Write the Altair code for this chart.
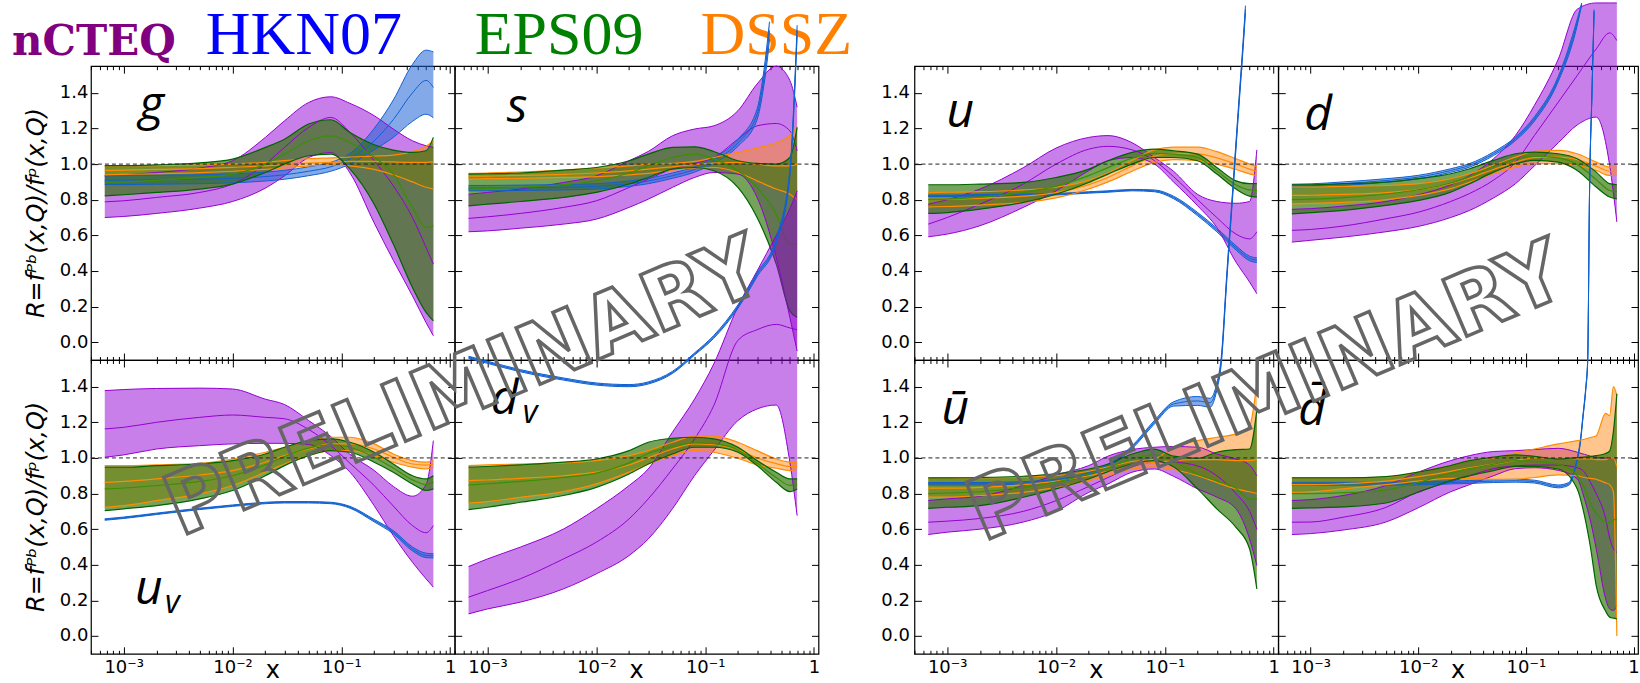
import altair as alt
import pandas as pd

W, H, W_R, GAP = 364, 294, 360, 96
XDOM = [5e-4, 1.1]
YDOM = [-0.1, 1.55]
YT = [0.0, 0.2, 0.4, 0.6, 0.8, 1.0, 1.2, 1.4]
XLAB = [0.001, 0.01, 0.1, 1.0]
MINOR = [round(m * 10.0 ** e, 6) for e in range(-4, 1) for m in range(1, 10) if 5e-4 <= m * 10.0 ** e <= 1.1]

X15 = [0.00067, 0.001, 0.002, 0.005, 0.01, 0.02, 0.03, 0.05, 0.08, 0.12, 0.2, 0.3, 0.45, 0.6, 0.7]
X19 = [0.00067, 0.001, 0.002, 0.005, 0.01, 0.02, 0.03, 0.05, 0.08, 0.12, 0.2, 0.3, 0.35, 0.4, 0.45, 0.55, 0.6, 0.65, 0.7]
X_S_HKN = [0.00067, 0.001, 0.002, 0.005, 0.01, 0.02, 0.03, 0.05, 0.08, 0.12, 0.2, 0.3, 0.34, 0.37, 0.39]
X_D_HKN = [0.00067, 0.001, 0.002, 0.005, 0.01, 0.02, 0.03, 0.05, 0.08, 0.12, 0.2, 0.3, 0.33]
X_UB_HKN = [0.00067, 0.001, 0.002, 0.005, 0.01, 0.02, 0.03, 0.05, 0.08, 0.12, 0.2, 0.26, 0.3, 0.33, 0.37, 0.42, 0.47, 0.53, 0.55]
X_DB_HKN = [0.00067, 0.001, 0.002, 0.005, 0.01, 0.02, 0.03, 0.05, 0.08, 0.12, 0.2, 0.25, 0.28, 0.3, 0.32, 0.34, 0.36, 0.375, 0.39, 0.41, 0.43]

# ---- g ----
G_NCTEQ_LO = [0.700, 0.706, 0.723, 0.753, 0.790, 0.865, 0.934, 1.037, 1.065, 0.950, 0.670, 0.460, 0.260, 0.110, 0.036]
G_NCTEQ_MID = [0.788, 0.794, 0.813, 0.841, 0.888, 1.000, 1.094, 1.206, 1.262, 1.178, 1.019, 0.878, 0.700, 0.532, 0.438]
G_NCTEQ_HI = [0.934, 0.940, 0.953, 0.978, 1.019, 1.150, 1.243, 1.346, 1.378, 1.341, 1.272, 1.197, 1.131, 1.103, 1.094]
G_EPS_LO = [0.822, 0.828, 0.841, 0.860, 0.888, 0.953, 1.000, 1.047, 1.056, 0.972, 0.775, 0.551, 0.307, 0.167, 0.120]
G_EPS_MID = [0.897, 0.900, 0.909, 0.925, 0.944, 1.000, 1.056, 1.131, 1.159, 1.120, 1.040, 0.944, 0.757, 0.644, 0.654]
G_EPS_HI = [0.991, 0.991, 0.996, 1.007, 1.028, 1.094, 1.140, 1.225, 1.249, 1.178, 1.109, 1.079, 1.066, 1.075, 1.150]
G_DSSZ_LO = [0.940, 0.942, 0.946, 0.952, 0.960, 0.970, 0.978, 0.990, 0.995, 0.990, 0.970, 0.940, 0.900, 0.870, 0.860]
G_DSSZ_MID = [0.965, 0.966, 0.970, 0.975, 0.982, 0.990, 0.997, 1.005, 1.010, 1.015, 1.015, 1.012, 1.010, 1.010, 1.012]
G_DSSZ_HI = [0.990, 0.990, 0.992, 0.995, 1.000, 1.010, 1.020, 1.030, 1.035, 1.040, 1.045, 1.050, 1.070, 1.100, 1.130]
G_HKN_LO = [0.885, 0.885, 0.887, 0.890, 0.895, 0.905, 0.915, 0.935, 0.960, 1.000, 1.080, 1.150, 1.240, 1.280, 1.260]
G_HKN_MID = [0.910, 0.910, 0.912, 0.915, 0.920, 0.930, 0.940, 0.960, 0.985, 1.030, 1.130, 1.250, 1.400, 1.470, 1.430]
G_HKN_HI = [0.935, 0.935, 0.937, 0.940, 0.945, 0.955, 0.965, 0.985, 1.010, 1.060, 1.200, 1.360, 1.560, 1.640, 1.630]

# ---- s ----
S_NCTEQ_LO = [0.620, 0.625, 0.640, 0.663, 0.691, 0.757, 0.803, 0.869, 0.925, 0.953, 0.944, 0.813, 0.476, 0.139, -0.050]
S_NCTEQ_MID = [0.695, 0.704, 0.723, 0.757, 0.794, 0.869, 0.916, 0.972, 1.004, 1.037, 1.140, 1.215, 1.228, 1.187, 1.075]
S_NCTEQ_HI = [0.831, 0.841, 0.860, 0.897, 0.934, 1.019, 1.071, 1.159, 1.197, 1.215, 1.300, 1.450, 1.550, 1.470, 1.320]
S_EPS_LO = [0.766, 0.775, 0.790, 0.813, 0.841, 0.888, 0.925, 0.972, 0.981, 0.963, 0.869, 0.700, 0.438, 0.176, 0.139]
S_EPS_MID = [0.860, 0.863, 0.870, 0.885, 0.905, 0.950, 0.990, 1.037, 1.056, 1.028, 0.963, 0.869, 0.719, 0.550, 0.550]
S_EPS_HI = [0.944, 0.946, 0.950, 0.966, 0.981, 1.019, 1.056, 1.094, 1.097, 1.071, 1.019, 1.004, 1.000, 1.037, 1.206]
S_DSSZ_LO = [0.916, 0.918, 0.920, 0.925, 0.930, 0.940, 0.948, 0.966, 0.978, 0.981, 0.953, 0.906, 0.860, 0.831, 0.800]
S_DSSZ_MID = [0.932, 0.933, 0.936, 0.942, 0.950, 0.962, 0.972, 0.985, 0.997, 1.005, 1.010, 1.000, 0.990, 0.990, 1.000]
S_DSSZ_HI = [0.948, 0.950, 0.955, 0.966, 0.978, 0.990, 1.000, 1.004, 1.015, 1.037, 1.066, 1.090, 1.120, 1.160, 1.210]
S_HKN_LO = [0.850, 0.850, 0.852, 0.855, 0.860, 0.875, 0.890, 0.920, 0.955, 1.005, 1.100, 1.250, 1.410, 1.570, 1.700]
S_HKN_MID = [0.865, 0.865, 0.867, 0.870, 0.875, 0.890, 0.905, 0.935, 0.970, 1.020, 1.120, 1.280, 1.450, 1.620, 1.750]
S_HKN_HI = [0.880, 0.880, 0.882, 0.885, 0.890, 0.905, 0.920, 0.950, 0.985, 1.035, 1.140, 1.310, 1.490, 1.670, 1.800]

# ---- u_v ----
UV_NCTEQ_LO = [1.004, 1.017, 1.050, 1.069, 1.079, 1.082, 1.082, 1.075, 1.013, 0.920, 0.732, 0.564, 0.414, 0.321, 0.274]
UV_NCTEQ_MID = [1.163, 1.172, 1.200, 1.228, 1.241, 1.228, 1.220, 1.160, 1.070, 0.970, 0.845, 0.730, 0.620, 0.580, 0.620]
UV_NCTEQ_HI = [1.378, 1.384, 1.390, 1.392, 1.387, 1.330, 1.300, 1.210, 1.120, 1.020, 0.930, 0.840, 0.785, 0.850, 1.097]
UV_EPS_LO = [0.704, 0.714, 0.732, 0.770, 0.817, 0.900, 0.957, 1.013, 1.041, 1.032, 0.976, 0.920, 0.854, 0.817, 0.826]
UV_EPS_MID = [0.826, 0.831, 0.845, 0.868, 0.900, 0.961, 1.008, 1.055, 1.074, 1.060, 1.004, 0.943, 0.877, 0.850, 0.863]
UV_EPS_HI = [0.948, 0.948, 0.957, 0.966, 0.985, 1.022, 1.060, 1.097, 1.107, 1.088, 1.032, 0.966, 0.900, 0.882, 0.900]
UV_DSSZ_LO = [0.723, 0.732, 0.760, 0.798, 0.845, 0.920, 0.966, 1.013, 1.041, 1.041, 1.013, 0.976, 0.948, 0.938, 0.948]
UV_DSSZ_MID = [0.863, 0.868, 0.882, 0.904, 0.929, 0.976, 1.013, 1.050, 1.079, 1.079, 1.050, 1.004, 0.966, 0.960, 0.966]
UV_DSSZ_HI = [0.957, 0.957, 0.961, 0.970, 0.994, 1.032, 1.060, 1.097, 1.116, 1.116, 1.079, 1.022, 0.985, 0.976, 0.985]
UV_HKN_LO = [0.650, 0.660, 0.682, 0.710, 0.728, 0.743, 0.747, 0.747, 0.743, 0.718, 0.641, 0.574, 0.478, 0.440, 0.438]
UV_HKN_MID = [0.654, 0.664, 0.686, 0.714, 0.732, 0.747, 0.751, 0.751, 0.747, 0.723, 0.648, 0.583, 0.489, 0.452, 0.450]
UV_HKN_HI = [0.658, 0.668, 0.690, 0.718, 0.736, 0.751, 0.755, 0.755, 0.751, 0.728, 0.655, 0.592, 0.500, 0.465, 0.462]

# ---- d_v ----
DV_NCTEQ_LO = [0.124, 0.152, 0.190, 0.265, 0.349, 0.452, 0.545, 0.714, 0.901, 1.041, 1.210, 1.275, 1.297, 0.976, 0.676]
DV_NCTEQ_MID = [0.218, 0.255, 0.321, 0.433, 0.527, 0.658, 0.770, 0.938, 1.107, 1.294, 1.660, 1.720, 1.750, 1.730, 1.720]
DV_NCTEQ_HI = [0.390, 0.433, 0.499, 0.601, 0.714, 0.845, 0.938, 1.144, 1.331, 1.528, 1.850, 2.050, 2.250, 2.400, 2.500]
DV_EPS_LO = [0.710, 0.723, 0.751, 0.789, 0.835, 0.910, 0.966, 1.022, 1.060, 1.060, 1.032, 0.957, 0.863, 0.811, 0.826]
DV_EPS_MID = [0.848, 0.855, 0.868, 0.890, 0.915, 0.972, 1.025, 1.065, 1.085, 1.080, 1.045, 0.970, 0.890, 0.846, 0.850]
DV_EPS_HI = [0.948, 0.952, 0.961, 0.976, 0.994, 1.041, 1.088, 1.110, 1.116, 1.107, 1.060, 0.985, 0.920, 0.882, 0.882]
DV_DSSZ_LO = [0.747, 0.755, 0.779, 0.811, 0.854, 0.920, 0.966, 1.013, 1.041, 1.032, 0.998, 0.961, 0.942, 0.929, 0.935]
DV_DSSZ_MID = [0.873, 0.876, 0.885, 0.900, 0.920, 0.960, 1.000, 1.050, 1.079, 1.075, 1.045, 1.000, 0.968, 0.952, 0.952]
DV_DSSZ_HI = [0.957, 0.961, 0.966, 0.972, 0.985, 1.013, 1.041, 1.088, 1.122, 1.122, 1.088, 1.041, 0.994, 0.976, 0.972]
DV_HKN_LO = [1.559, 1.531, 1.484, 1.437, 1.409, 1.400, 1.415, 1.474, 1.578, 1.672, 1.840, 2.018, 2.205, 2.580, 3.370]
DV_HKN_MID = [1.565, 1.537, 1.490, 1.443, 1.415, 1.406, 1.421, 1.480, 1.584, 1.680, 1.850, 2.030, 2.220, 2.600, 3.400]
DV_HKN_HI = [1.571, 1.543, 1.496, 1.449, 1.421, 1.412, 1.427, 1.486, 1.590, 1.688, 1.860, 2.042, 2.235, 2.620, 3.430]

# ---- u ----
U_NCTEQ_LO = [0.592, 0.607, 0.654, 0.757, 0.850, 0.963, 1.019, 1.037, 1.000, 0.900, 0.766, 0.644, 0.450, 0.338, 0.272]
U_NCTEQ_MID = [0.663, 0.700, 0.775, 0.888, 1.000, 1.084, 1.100, 1.080, 1.020, 0.930, 0.800, 0.700, 0.607, 0.580, 0.620]
U_NCTEQ_HI = [0.775, 0.800, 0.860, 0.980, 1.090, 1.150, 1.160, 1.120, 1.037, 0.960, 0.830, 0.790, 0.780, 0.790, 1.080]
U_EPS_LO = [0.723, 0.728, 0.747, 0.785, 0.831, 0.897, 0.944, 1.000, 1.037, 1.037, 1.019, 0.944, 0.860, 0.820, 0.815]
U_EPS_MID = [0.800, 0.803, 0.815, 0.840, 0.876, 0.935, 0.980, 1.033, 1.060, 1.056, 1.037, 0.962, 0.883, 0.855, 0.852]
U_EPS_HI = [0.884, 0.884, 0.888, 0.897, 0.925, 0.972, 1.019, 1.066, 1.084, 1.075, 1.056, 0.981, 0.906, 0.890, 0.890]
U_DSSZ_LO = [0.760, 0.762, 0.770, 0.785, 0.810, 0.860, 0.900, 0.960, 1.010, 1.025, 1.020, 1.000, 0.970, 0.945, 0.935]
U_DSSZ_MID = [0.800, 0.802, 0.808, 0.820, 0.840, 0.885, 0.925, 0.990, 1.045, 1.060, 1.058, 1.035, 1.000, 0.972, 0.960]
U_DSSZ_HI = [0.840, 0.842, 0.845, 0.855, 0.870, 0.910, 0.950, 1.020, 1.080, 1.095, 1.095, 1.070, 1.030, 1.000, 0.985]
U_HKN_LO = [0.818, 0.818, 0.821, 0.824, 0.827, 0.837, 0.842, 0.850, 0.845, 0.806, 0.710, 0.620, 0.518, 0.457, 0.447]
U_HKN_MID = [0.822, 0.822, 0.825, 0.828, 0.831, 0.841, 0.846, 0.854, 0.850, 0.813, 0.719, 0.630, 0.530, 0.470, 0.460]
U_HKN_HI = [0.826, 0.826, 0.829, 0.832, 0.835, 0.845, 0.850, 0.858, 0.855, 0.820, 0.728, 0.640, 0.542, 0.483, 0.473]

# ---- d ----
D_NCTEQ_LO = [0.562, 0.572, 0.590, 0.620, 0.650, 0.700, 0.740, 0.810, 0.890, 0.990, 1.120, 1.220, 1.264, 0.993, 0.675]
D_NCTEQ_MID = [0.628, 0.633, 0.652, 0.693, 0.730, 0.790, 0.835, 0.910, 1.010, 1.161, 1.348, 1.498, 1.647, 1.737, 1.694]
D_NCTEQ_HI = [0.746, 0.750, 0.764, 0.790, 0.828, 0.884, 0.936, 1.030, 1.161, 1.330, 1.590, 1.870, 1.905, 1.905, 1.905]
D_EPS_LO = [0.721, 0.727, 0.740, 0.768, 0.796, 0.843, 0.890, 0.955, 1.002, 1.021, 1.011, 0.964, 0.871, 0.815, 0.805]
D_EPS_MID = [0.800, 0.803, 0.812, 0.832, 0.856, 0.894, 0.930, 0.988, 1.030, 1.044, 1.035, 0.997, 0.913, 0.852, 0.845]
D_EPS_HI = [0.884, 0.884, 0.890, 0.899, 0.918, 0.946, 0.974, 1.021, 1.058, 1.067, 1.058, 1.030, 0.955, 0.890, 0.884]
D_DSSZ_LO = [0.777, 0.779, 0.785, 0.800, 0.824, 0.862, 0.899, 0.946, 0.983, 1.002, 1.002, 0.993, 0.964, 0.936, 0.936]
D_DSSZ_MID = [0.824, 0.825, 0.830, 0.840, 0.857, 0.890, 0.922, 0.970, 1.011, 1.036, 1.040, 1.025, 0.988, 0.960, 0.960]
D_DSSZ_HI = [0.871, 0.871, 0.875, 0.880, 0.890, 0.918, 0.946, 0.993, 1.039, 1.071, 1.077, 1.058, 1.011, 0.983, 0.983]
D_HKN_LO = [0.867, 0.869, 0.880, 0.898, 0.917, 0.954, 0.983, 1.048, 1.132, 1.242, 1.465, 1.780, 1.895]
D_HKN_MID = [0.877, 0.879, 0.890, 0.908, 0.927, 0.964, 0.993, 1.058, 1.142, 1.254, 1.479, 1.797, 1.900]
D_HKN_HI = [0.887, 0.889, 0.900, 0.918, 0.937, 0.974, 1.003, 1.068, 1.152, 1.266, 1.493, 1.814, 1.905]

# ---- u-bar ----
UB_NCTEQ_LO = [0.570, 0.583, 0.600, 0.640, 0.700, 0.807, 0.854, 0.920, 0.938, 0.897, 0.826, 0.780, 0.714, 0.545, 0.396]
UB_NCTEQ_MID = [0.639, 0.645, 0.660, 0.700, 0.760, 0.840, 0.890, 0.950, 0.975, 0.975, 0.955, 0.900, 0.800, 0.700, 0.600]
UB_NCTEQ_HI = [0.761, 0.770, 0.785, 0.845, 0.905, 0.957, 1.010, 1.047, 1.060, 1.064, 1.060, 1.022, 0.994, 0.960, 0.900]
UB_EPS_LO = [0.717, 0.723, 0.732, 0.779, 0.826, 0.882, 0.923, 0.966, 0.985, 0.950, 0.826, 0.714, 0.610, 0.490, 0.265]
UB_EPS_MID = [0.800, 0.803, 0.810, 0.835, 0.865, 0.910, 0.945, 0.995, 1.017, 0.980, 0.910, 0.870, 0.830, 0.770, 0.770]
UB_EPS_HI = [0.888, 0.888, 0.890, 0.897, 0.910, 0.938, 0.966, 1.022, 1.050, 1.010, 0.998, 1.032, 1.047, 1.050, 1.270]
UB_DSSZ_LO = [0.780, 0.780, 0.789, 0.807, 0.835, 0.873, 0.900, 0.938, 0.948, 0.935, 0.900, 0.863, 0.826, 0.810, 0.800]
UB_DSSZ_MID = [0.830, 0.830, 0.835, 0.850, 0.870, 0.900, 0.925, 0.960, 0.975, 0.985, 0.990, 0.990, 0.985, 0.985, 0.990]
UB_DSSZ_HI = [0.888, 0.888, 0.889, 0.893, 0.900, 0.925, 0.950, 0.980, 0.994, 1.060, 1.097, 1.116, 1.135, 1.180, 1.420]
UB_HKN_LO = [0.848, 0.848, 0.848, 0.853, 0.866, 0.903, 0.950, 1.052, 1.190, 1.291, 1.295, 1.285, 1.380, 1.530, 1.990, 2.470, 2.900, 3.350, 3.500]
UB_HKN_MID = [0.855, 0.855, 0.855, 0.860, 0.873, 0.910, 0.957, 1.060, 1.200, 1.303, 1.320, 1.310, 1.400, 1.550, 2.010, 2.490, 2.920, 3.370, 3.520]
UB_HKN_HI = [0.862, 0.862, 0.862, 0.867, 0.880, 0.917, 0.964, 1.068, 1.210, 1.315, 1.345, 1.335, 1.420, 1.570, 2.030, 2.510, 2.940, 3.390, 3.540]

# ---- d-bar ----
DB_NCTEQ_LO = [0.570, 0.575, 0.595, 0.640, 0.720, 0.810, 0.850, 0.900, 0.940, 0.945, 0.930, 0.882, 0.770, 0.640, 0.490, 0.210, 0.152, 0.143, 0.171]
DB_NCTEQ_MID = [0.639, 0.640, 0.667, 0.722, 0.810, 0.866, 0.900, 0.940, 0.955, 0.960, 0.960, 0.945, 0.920, 0.860, 0.800, 0.660, 0.550, 0.490, 0.470]
DB_NCTEQ_HI = [0.761, 0.766, 0.789, 0.845, 0.920, 0.985, 1.013, 1.036, 1.041, 1.047, 1.054, 1.032, 1.020, 1.010, 1.004, 1.000, 1.000, 1.000, 1.000]
DB_EPS_LO = [0.717, 0.720, 0.725, 0.747, 0.807, 0.873, 0.900, 0.929, 0.953, 0.953, 0.938, 0.826, 0.676, 0.490, 0.283, 0.140, 0.106, 0.100, 0.096]
DB_EPS_MID = [0.800, 0.800, 0.805, 0.820, 0.862, 0.915, 0.940, 0.965, 0.985, 0.980, 0.965, 0.900, 0.830, 0.740, 0.690, 0.640, 0.640, 0.650, 0.660]
DB_EPS_HI = [0.888, 0.888, 0.888, 0.895, 0.920, 0.957, 0.985, 1.004, 1.017, 1.009, 0.994, 1.002, 1.005, 1.008, 1.013, 1.025, 1.040, 1.150, 1.360]
DB_DSSZ_LO = [0.807, 0.810, 0.826, 0.850, 0.870, 0.885, 0.885, 0.880, 0.880, 0.890, 0.905, 0.900, 0.890, 0.885, 0.880, 0.860, 0.850, 0.810, 0.000]
DB_DSSZ_MID = [0.850, 0.850, 0.855, 0.870, 0.895, 0.925, 0.945, 0.965, 0.985, 1.000, 1.000, 0.995, 0.995, 0.995, 0.990, 0.990, 1.000, 1.000, 0.950]
DB_DSSZ_HI = [0.888, 0.888, 0.888, 0.893, 0.920, 0.957, 0.985, 1.000, 1.028, 1.050, 1.079, 1.097, 1.105, 1.115, 1.125, 1.250, 1.238, 1.400, 1.350]
DB_HKN_LO = [0.847, 0.847, 0.847, 0.847, 0.849, 0.854, 0.857, 0.862, 0.864, 0.859, 0.832, 0.846, 0.912, 0.986, 1.080, 1.232, 1.382, 1.542, 2.482, 3.022, 3.502]
DB_HKN_MID = [0.855, 0.855, 0.855, 0.855, 0.857, 0.862, 0.865, 0.870, 0.872, 0.867, 0.840, 0.854, 0.920, 0.994, 1.088, 1.240, 1.390, 1.550, 2.490, 3.030, 3.510]
DB_HKN_HI = [0.863, 0.863, 0.863, 0.863, 0.865, 0.870, 0.873, 0.878, 0.880, 0.875, 0.848, 0.862, 0.928, 1.002, 1.096, 1.248, 1.398, 1.558, 2.498, 3.038, 3.518]

SETS = {
    "g": {"nCTEQ": (X15, G_NCTEQ_LO, G_NCTEQ_MID, G_NCTEQ_HI), "HKN07": (X15, G_HKN_LO, G_HKN_MID, G_HKN_HI),
          "DSSZ": (X15, G_DSSZ_LO, G_DSSZ_MID, G_DSSZ_HI), "EPS09": (X15, G_EPS_LO, G_EPS_MID, G_EPS_HI)},
    "s": {"nCTEQ": (X15, S_NCTEQ_LO, S_NCTEQ_MID, S_NCTEQ_HI), "HKN07": (X_S_HKN, S_HKN_LO, S_HKN_MID, S_HKN_HI),
          "DSSZ": (X15, S_DSSZ_LO, S_DSSZ_MID, S_DSSZ_HI), "EPS09": (X15, S_EPS_LO, S_EPS_MID, S_EPS_HI)},
    "uv": {"nCTEQ": (X15, UV_NCTEQ_LO, UV_NCTEQ_MID, UV_NCTEQ_HI), "HKN07": (X15, UV_HKN_LO, UV_HKN_MID, UV_HKN_HI),
           "DSSZ": (X15, UV_DSSZ_LO, UV_DSSZ_MID, UV_DSSZ_HI), "EPS09": (X15, UV_EPS_LO, UV_EPS_MID, UV_EPS_HI)},
    "dv": {"nCTEQ": (X15, DV_NCTEQ_LO, DV_NCTEQ_MID, DV_NCTEQ_HI), "HKN07": (X15, DV_HKN_LO, DV_HKN_MID, DV_HKN_HI),
           "DSSZ": (X15, DV_DSSZ_LO, DV_DSSZ_MID, DV_DSSZ_HI), "EPS09": (X15, DV_EPS_LO, DV_EPS_MID, DV_EPS_HI)},
    "u": {"nCTEQ": (X15, U_NCTEQ_LO, U_NCTEQ_MID, U_NCTEQ_HI), "HKN07": (X15, U_HKN_LO, U_HKN_MID, U_HKN_HI),
          "DSSZ": (X15, U_DSSZ_LO, U_DSSZ_MID, U_DSSZ_HI), "EPS09": (X15, U_EPS_LO, U_EPS_MID, U_EPS_HI)},
    "d": {"nCTEQ": (X15, D_NCTEQ_LO, D_NCTEQ_MID, D_NCTEQ_HI), "HKN07": (X_D_HKN, D_HKN_LO, D_HKN_MID, D_HKN_HI),
          "DSSZ": (X15, D_DSSZ_LO, D_DSSZ_MID, D_DSSZ_HI), "EPS09": (X15, D_EPS_LO, D_EPS_MID, D_EPS_HI)},
    "ub": {"nCTEQ": (X15, UB_NCTEQ_LO, UB_NCTEQ_MID, UB_NCTEQ_HI), "HKN07": (X_UB_HKN, UB_HKN_LO, UB_HKN_MID, UB_HKN_HI),
           "DSSZ": (X15, UB_DSSZ_LO, UB_DSSZ_MID, UB_DSSZ_HI), "EPS09": (X15, UB_EPS_LO, UB_EPS_MID, UB_EPS_HI)},
    "db": {"nCTEQ": (X19, DB_NCTEQ_LO, DB_NCTEQ_MID, DB_NCTEQ_HI), "HKN07": (X_DB_HKN, DB_HKN_LO, DB_HKN_MID, DB_HKN_HI),
           "DSSZ": (X19, DB_DSSZ_LO, DB_DSSZ_MID, DB_DSSZ_HI), "EPS09": (X19, DB_EPS_LO, DB_EPS_MID, DB_EPS_HI)},
}

STYLE = {
    "nCTEQ": dict(fill="#9400d3", op=0.5, edge="#9400d3", mid="#9400d3", w=1.0),
    "HKN07": dict(fill="#1f62d6", op=0.55, edge="#1060d0", mid="#1060d0", w=1.0),
    "DSSZ": dict(fill="#ff8c1a", op=0.5, edge="#ff8c00", mid="#ff8c00", w=1.2),
    "EPS09": dict(fill="#2a7200", op=0.65, edge="#006400", mid="#3c8f00", w=1.2),
}
ORDER = ["nCTEQ", "HKN07", "DSSZ", "EPS09"]

ONE = pd.DataFrame({"k": [0]})
LABEL_EXPR = "datum.value > 0.5 ? '1' : datum.value > 0.05 ? '10\u207b\u00b9' : datum.value > 0.005 ? '10\u207b\u00b2' : '10\u207b\u00b3'"
TS_X = {"condition": {"test": "abs(log(datum.value)/LN10 - round(log(datum.value)/LN10)) < 0.01", "value": 7}, "value": 3.5}


def x_label_axis():
    return alt.Axis(orient="bottom", values=XLAB, labelExpr=LABEL_EXPR, ticks=False, tickSize=0, domain=False,
                    grid=False, labelFont="DejaVu Sans", labelFontSize=18, labelColor="black", labelPadding=5,
                    labelFlush=False, labelOverlap=False, title=None)


def y_label_axis(pad):
    return alt.Axis(orient="left", values=YT, format=".1f", ticks=False, tickSize=0, domain=False, grid=False,
                    labelFont="DejaVu Sans", labelFontSize=18, labelColor="black", labelPadding=pad,
                    labelFlush=False, labelOverlap=False, title=None)


def x_tick_axis(orient):
    return alt.Axis(orient=orient, offset=-H, values=MINOR, labels=False, domain=False, grid=False, ticks=True,
                    tickSize=TS_X, tickColor="black", tickWidth=1, title=None)


def y_tick_axis(orient, w):
    return alt.Axis(orient=orient, offset=-w, values=YT, labels=False, domain=False, grid=False, ticks=True,
                    tickSize=7, tickColor="black", tickWidth=1, title=None)


def txt(s, x, y, size, font="DejaVu Sans", style="normal", weight="normal", color="black", angle=0,
        align="left", baseline="alphabetic", **kw):
    return alt.Chart(ONE).mark_text(text=s, font=font, fontSize=size, fontStyle=style, fontWeight=weight,
                                    color=color, angle=angle, align=align, baseline=baseline, **kw).encode(
        x=alt.value(x), y=alt.value(y))


def build(key, w, xlab, ylab, ypad, texts):
    sets = SETS[key]
    xs = alt.Scale(type="log", domain=XDOM, nice=False)
    ys = alt.Scale(domain=YDOM, nice=False, zero=False)
    layers = []
    for i, name in enumerate(ORDER):
        xv, lo, mid, hi = sets[name]
        st = STYLE[name]
        df = pd.DataFrame({"x": xv, "lo": lo, "hi": hi})
        xa = x_label_axis() if (i == 0 and xlab) else None
        ya = y_label_axis(ypad) if (i == 0 and ylab) else None
        layers.append(alt.Chart(df).mark_area(interpolate="monotone", clip=False, color=st["fill"],
                                               fillOpacity=st["op"]).encode(
            x=alt.X("x:Q", scale=xs, axis=xa), y=alt.Y("lo:Q", scale=ys, axis=ya), y2=alt.Y2("hi:Q")))
    first = True
    for name in ORDER:
        xv, lo, mid, hi = sets[name]
        st = STYLE[name]
        edf = pd.DataFrame({"x": list(xv) * 2, "y": list(lo) + list(hi), "c": ["lo"] * len(xv) + ["hi"] * len(xv)})
        mdf = pd.DataFrame({"x": xv, "y": mid})
        xa = x_tick_axis("top") if first else None
        ya = y_tick_axis("right", w) if first else None
        first = False
        layers.append(alt.Chart(edf).mark_line(interpolate="monotone", clip=False, color=st["edge"],
                                               strokeWidth=st["w"]).encode(
            x=alt.X("x:Q", scale=xs, axis=xa), y=alt.Y("y:Q", scale=ys, axis=ya), detail="c:N"))
        layers.append(alt.Chart(mdf).mark_line(interpolate="monotone", clip=False, color=st["mid"],
                                               strokeWidth=st["w"]).encode(
            x=alt.X("x:Q", scale=xs, axis=None), y=alt.Y("y:Q", scale=ys, axis=None)))
    rdf = pd.DataFrame({"x": [XDOM[0]], "x2": [XDOM[1]], "y": [1.0]})
    layers.append(alt.Chart(rdf).mark_rule(color="#222222", strokeDash=[4, 3], strokeWidth=1).encode(
        x=alt.X("x:Q", scale=xs, axis=x_tick_axis("bottom")), x2="x2:Q",
        y=alt.Y("y:Q", scale=ys, axis=y_tick_axis("left", w))))
    layers.extend(texts)
    return alt.layer(*layers).resolve_axis(x="independent", y="independent").properties(width=w, height=H)


YTITLE = "R=f\u1d3e\u1d47(x,Q)/f\u1d56(x,Q)"
LBL = dict(font="Open Sans", style="italic")


def xtitle(w):
    return txt("x", w / 2, H + 24, 24, align="center")


def ytitle():
    return txt(YTITLE, -54, H / 2, 24, style="italic", angle=270, align="center", baseline="middle")


def watermark(x, y):
    return txt("PRELIMINARY", x, y, 84, weight="bold", angle=337, align="center", baseline="middle",
               fill="#ffffff", fillOpacity=0, stroke="#666666", strokeWidth=3.5)


def spacer():
    return alt.Chart(ONE).mark_point(opacity=0).encode(x=alt.value(1), y=alt.value(1)).properties(
        width=GAP, height=H, view=alt.ViewBackground(strokeOpacity=0))


anchor = alt.Chart(ONE).mark_rule(color="white", strokeWidth=1).encode(
    x=alt.value(-89), x2=alt.value(-88), y=alt.value(-64))

g_texts = [
    anchor,
    txt("g", 48, 54, 48, **LBL),
    ytitle(),
    txt("nCTEQ", -79, -11, 42, font="DejaVu Serif", weight="bold", color="#800080"),
    txt("HKN07", 115, -12, 62, font="Liberation Serif", color="#0000ff"),
    txt("EPS09", 384, -12, 62, font="Liberation Serif", color="#008000"),
    txt("DSSZ", 610, -12, 62, font="Liberation Serif", color="#ff8000"),
]
s_texts = [txt("s", 52, 56, 48, **LBL)]
uv_texts = [txt("u", 44, 244, 48, **LBL), txt("v", 74, 253, 32, **LBL), ytitle(), xtitle(W)]
dv_texts = [txt("d", 36, 54, 48, **LBL), txt("v", 68, 63, 32, **LBL), xtitle(W), watermark(10, 29)]
u_texts = [txt("u", 32, 61, 48, **LBL)]
d_texts = [txt("d", 26, 64, 48, **LBL)]
ub_texts = [txt("\u016b", 27, 64, 48, **LBL), xtitle(W)]
db_texts = [txt("d\u0304", 20, 65, 48, **LBL), xtitle(W_R), watermark(-11, 34)]

p_g = build("g", W, False, True, 3, g_texts)
p_s = build("s", W, False, False, 3, s_texts)
p_uv = build("uv", W, True, True, 3, uv_texts)
p_dv = build("dv", W, True, False, 3, dv_texts)
p_u = build("u", W, False, True, 5, u_texts)
p_d = build("d", W_R, False, False, 5, d_texts)
p_ub = build("ub", W, True, True, 5, ub_texts)
p_db = build("db", W_R, True, False, 5, db_texts)

chart = alt.concat(
    p_g, p_s, spacer(), p_u, p_d,
    p_uv, p_dv, spacer(), p_ub, p_db,
    columns=5, spacing=0, bounds="flush",
).properties(
    padding={"left": 0, "top": 0, "right": 0, "bottom": 0},
    autosize=alt.AutoSizeParams(type="pad"),
    background="white",
).configure_view(stroke="black", strokeWidth=1.2)

chart.save("out.html", embed_options={"renderer": "svg", "actions": False})
